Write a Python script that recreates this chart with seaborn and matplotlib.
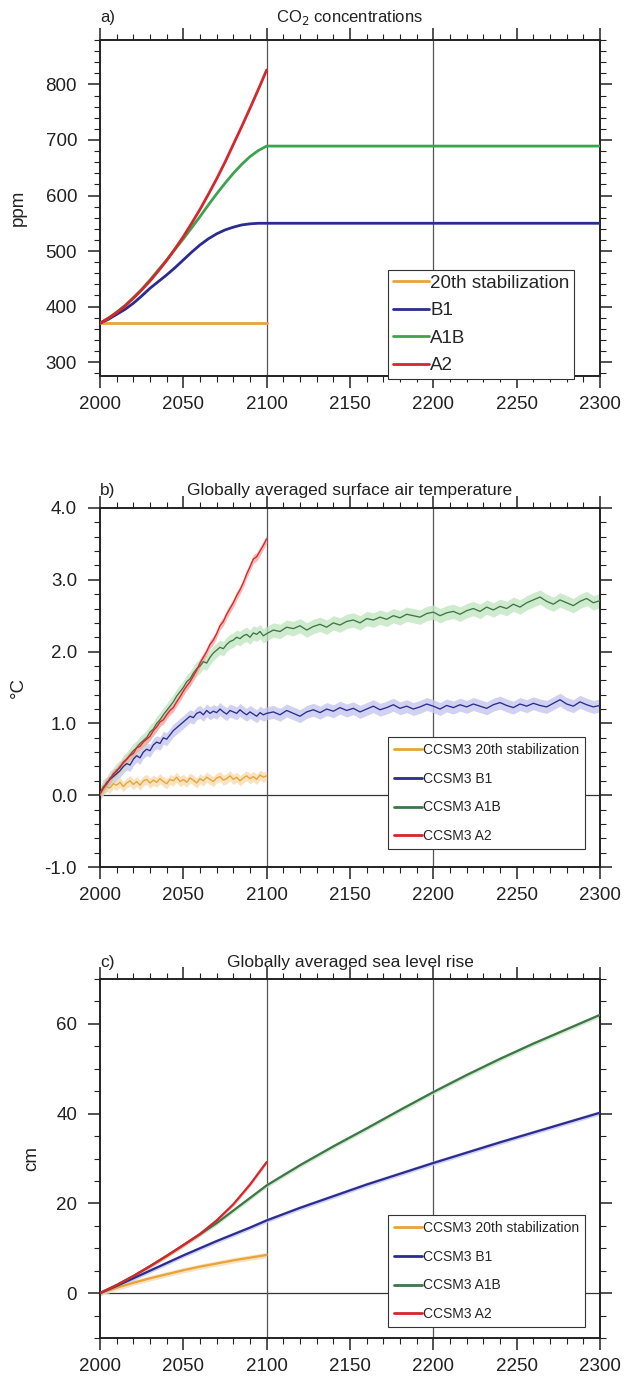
import numpy as np
import pandas as pd
import matplotlib
matplotlib.use("Agg")
import matplotlib.pyplot as plt
import seaborn as sns
from matplotlib.ticker import MultipleLocator, FormatStrFormatter

# ---------------- data ----------------
# Panel a: CO2 concentrations (ppm)
years_a = [2000, 2005, 2010, 2015, 2020, 2025, 2030, 2035, 2040, 2045, 2050,
           2055, 2060, 2065, 2070, 2075, 2080, 2085, 2090, 2095, 2100, 2300]
co2_stab = [370, 370, 370, 370, 370, 370, 370, 370, 370, 370, 370,
            370, 370, 370, 370, 370, 370, 370, 370, 370, 370, np.nan]
co2_b1 = [370, 377, 386, 395, 406, 419, 433, 445, 457, 470, 484,
          498, 511, 522, 531, 538, 543, 547, 549, 550, 550, 550]
co2_a1b = [370, 379, 390, 402, 416, 431, 448, 466, 484, 503, 522,
           542, 562, 583, 603, 622, 640, 656, 670, 681, 689, 689]
co2_a2 = [370, 379, 389, 401, 415, 430, 446, 464, 483, 504, 526,
          550, 575, 602, 630, 660, 692, 724, 757, 791, 826, np.nan]
labels_a = ["20th stabilization", "B1", "A1B", "A2"]

# Panel b: globally averaged surface air temperature (deg C)
years_b1 = list(range(2000, 2101, 2))
years_b2 = list(range(2100, 2301, 4))
tas_stab = [0.00, 0.08, 0.12, 0.10, 0.16, 0.14, 0.18, 0.12, 0.17, 0.20, 0.15, 0.19, 0.14,
            0.20, 0.22, 0.17, 0.21, 0.18, 0.23, 0.19, 0.16, 0.22, 0.20, 0.25, 0.19, 0.22,
            0.18, 0.24, 0.21, 0.17, 0.23, 0.20, 0.25, 0.22, 0.19, 0.24, 0.26, 0.21, 0.23,
            0.27, 0.22, 0.25, 0.20, 0.24, 0.27, 0.23, 0.26, 0.22, 0.28, 0.25, 0.27]
tas_b1_a = [0.02, 0.10, 0.16, 0.22, 0.26, 0.30, 0.34, 0.40, 0.44, 0.42, 0.50, 0.55, 0.52,
            0.60, 0.64, 0.62, 0.70, 0.74, 0.72, 0.80, 0.78, 0.84, 0.90, 0.94, 0.98, 1.02,
            1.06, 1.10, 1.08, 1.14, 1.16, 1.12, 1.18, 1.14, 1.17, 1.15, 1.20, 1.16, 1.13,
            1.18, 1.16, 1.14, 1.19, 1.15, 1.12, 1.16, 1.13, 1.10, 1.15, 1.12, 1.14]
tas_b1_b = [1.14, 1.16, 1.12, 1.18, 1.14, 1.10, 1.16, 1.19, 1.15, 1.20, 1.17, 1.22, 1.18,
            1.21, 1.16, 1.20, 1.24, 1.19, 1.22, 1.26, 1.21, 1.24, 1.20, 1.23, 1.27, 1.24,
            1.20, 1.25, 1.22, 1.26, 1.23, 1.27, 1.24, 1.21, 1.26, 1.29, 1.25, 1.22, 1.27,
            1.24, 1.28, 1.25, 1.23, 1.28, 1.33, 1.27, 1.24, 1.30, 1.26, 1.23, 1.25]
tas_a1b_a = [0.02, 0.12, 0.15, 0.24, 0.28, 0.35, 0.38, 0.46, 0.50, 0.56, 0.62, 0.66, 0.72,
             0.76, 0.80, 0.88, 0.92, 1.00, 1.05, 1.12, 1.18, 1.24, 1.30, 1.38, 1.44, 1.50,
             1.58, 1.62, 1.70, 1.76, 1.80, 1.86, 1.84, 1.92, 1.98, 2.02, 2.06, 2.04, 2.10,
             2.14, 2.16, 2.20, 2.18, 2.22, 2.24, 2.20, 2.26, 2.24, 2.28, 2.22, 2.25]
tas_a1b_b = [2.25, 2.30, 2.28, 2.34, 2.32, 2.36, 2.30, 2.35, 2.38, 2.34, 2.40, 2.37, 2.42,
             2.44, 2.40, 2.46, 2.44, 2.48, 2.45, 2.50, 2.47, 2.52, 2.50, 2.48, 2.53, 2.55,
             2.50, 2.54, 2.56, 2.52, 2.57, 2.60, 2.56, 2.62, 2.58, 2.63, 2.60, 2.66, 2.62,
             2.68, 2.72, 2.76, 2.70, 2.66, 2.72, 2.68, 2.64, 2.70, 2.74, 2.68, 2.71]
tas_a2 = [0.02, 0.10, 0.18, 0.22, 0.30, 0.33, 0.40, 0.45, 0.50, 0.55, 0.58, 0.66, 0.68,
          0.74, 0.78, 0.82, 0.90, 0.95, 1.02, 1.05, 1.12, 1.18, 1.22, 1.30, 1.37, 1.45,
          1.52, 1.58, 1.66, 1.74, 1.84, 1.92, 2.00, 2.10, 2.16, 2.25, 2.36, 2.42, 2.52,
          2.60, 2.68, 2.78, 2.86, 2.96, 3.08, 3.18, 3.29, 3.32, 3.40, 3.48, 3.57]
spread_b = {"stab": 0.07, "b1": 0.09, "a1b": 0.10, "a2": 0.06}
labels_bc = ["CCSM3 20th stabilization", "CCSM3 B1", "CCSM3 A1B", "CCSM3 A2"]

# Panel c: globally averaged sea level rise (cm)
years_c1 = [2000, 2010, 2020, 2030, 2040, 2050, 2060, 2070, 2080, 2090, 2100]
years_c2 = [2100, 2120, 2140, 2160, 2180, 2200, 2220, 2240, 2260, 2280, 2300]
sl_stab = [0.0, 1.2, 2.3, 3.3, 4.2, 5.1, 5.9, 6.6, 7.3, 7.9, 8.5]
sl_b1_a = [0.0, 1.6, 3.3, 5.0, 6.7, 8.4, 10.0, 11.6, 13.1, 14.6, 16.2]
sl_b1_b = [16.2, 19.0, 21.6, 24.2, 26.6, 29.0, 31.3, 33.6, 35.8, 38.0, 40.2]
sl_a1b_a = [0.0, 1.8, 3.8, 6.0, 8.3, 10.7, 13.1, 15.6, 18.4, 21.2, 24.0]
sl_a1b_b = [24.0, 28.5, 32.7, 36.7, 40.8, 44.8, 48.6, 52.2, 55.6, 58.8, 62.0]
sl_a2 = [0.0, 1.8, 3.8, 6.0, 8.3, 10.7, 13.2, 16.2, 19.8, 24.2, 29.2]
spread_c = {"stab": 0.6, "b1": 0.5, "a1b": 0.5, "a2": 0.4}

# ---------------- style ----------------
W, H = 628, 1378
sns.set_theme(style="ticks")
plt.rcParams['font.family'] = ['Liberation Sans', 'DejaVu Sans']
plt.rcParams['axes.linewidth'] = 1.4

c_orange = "#E8A339"
c_navy = "#2B2C8E"
c_green_a = "#3CA34E"
c_green = "#3F7548"
c_red = "#D5262B"
sh_orange = "#F6DDB0"
sh_navy = "#C6C6EE"
sh_green = "#C2E6C2"
sh_red = "#F4A7A5"
TXT = "#222222"

fig = plt.figure(figsize=(W / 100, H / 100), dpi=100)


def make_ax(top_px, bot_px):
    return fig.add_axes([100 / W, 1 - bot_px / H, 500 / W, (bot_px - top_px) / H])


def style_ax(ax, ymajor, yminor):
    ax.set_xlim(2000, 2300)
    ax.xaxis.set_major_locator(MultipleLocator(50))
    ax.xaxis.set_minor_locator(MultipleLocator(10))
    ax.yaxis.set_major_locator(MultipleLocator(ymajor))
    ax.yaxis.set_minor_locator(MultipleLocator(yminor))
    ax.tick_params(which='both', direction='out', top=True, right=True,
                   labeltop=False, labelright=False, colors=TXT,
                   labelsize=13.5, labelcolor=TXT)
    ax.tick_params(which='major', length=8.5, width=1.1)
    ax.tick_params(axis='y', which='major', pad=8)
    ax.tick_params(axis='x', which='major', pad=6)
    ax.tick_params(which='minor', length=4, width=0.8)
    for s in ax.spines.values():
        s.set_color(TXT)
        s.set_visible(True)
    ax.axvline(2100, color='#555555', lw=0.9, zorder=1)
    ax.axvline(2200, color='#555555', lw=0.9, zorder=1)
    ax.set_xlabel("")


def small_legend(ax, top_px):
    leg = ax.legend(loc='upper left', bbox_to_anchor=(388 / W, 1 - top_px / H),
                    bbox_transform=fig.transFigure, fontsize=10, frameon=True,
                    fancybox=False, edgecolor='#333333', framealpha=1,
                    handlelength=2.0, handletextpad=0.05, labelspacing=1.05,
                    borderpad=0.45, borderaxespad=0)
    leg.get_frame().set_linewidth(0.8)
    for lh in leg.get_lines():
        lh.set_linewidth(2.0)
    leg.set_zorder(10)
    return leg


# ---------------- panel a ----------------
ax_a = make_ax(40, 376)
df_a = pd.concat([
    pd.DataFrame({"year": years_a, "ppm": co2_stab, "run": labels_a[0]}),
    pd.DataFrame({"year": years_a, "ppm": co2_b1, "run": labels_a[1]}),
    pd.DataFrame({"year": years_a, "ppm": co2_a1b, "run": labels_a[2]}),
    pd.DataFrame({"year": years_a, "ppm": co2_a2, "run": labels_a[3]}),
]).dropna()
sns.lineplot(data=df_a, x="year", y="ppm", hue="run", hue_order=labels_a,
             palette=[c_orange, c_navy, c_green_a, c_red], lw=2.0,
             estimator=None, sort=False, ax=ax_a, zorder=3)
ax_a.set_ylim(275, 880)
style_ax(ax_a, 100, 20)
ax_a.set_ylabel("ppm", fontsize=13.5, color=TXT)
ax_a.yaxis.set_label_coords(-0.146, 0.5)
ax_a.set_title("a)", loc='left', fontsize=12, pad=13, color=TXT)
ax_a.set_title("CO$_2$ concentrations", loc='center', fontsize=12, pad=13, color=TXT)
leg = ax_a.legend(loc='upper left', bbox_to_anchor=(388 / W, 1 - 270 / H),
                  bbox_transform=fig.transFigure, fontsize=13.5, frameon=True,
                  fancybox=False, edgecolor='#333333', framealpha=1,
                  handlelength=1.95, handletextpad=0.05, labelspacing=0.55,
                  borderpad=0.25, borderaxespad=0)
leg.get_frame().set_linewidth(0.8)
leg.set_zorder(10)

# ---------------- panel b ----------------
ax_b = make_ax(508, 867)
bands = [
    (years_b1, tas_stab, spread_b["stab"], sh_orange),
    (years_b1, tas_b1_a, spread_b["b1"], sh_navy),
    (years_b2, tas_b1_b, spread_b["b1"], sh_navy),
    (years_b1, tas_a1b_a, spread_b["a1b"], sh_green),
    (years_b2, tas_a1b_b, spread_b["a1b"], sh_green),
    (years_b1, tas_a2, spread_b["a2"], sh_red),
]
for yrs, vals, sp, col in bands:
    v = np.array(vals)
    ax_b.fill_between(yrs, v - sp, v + sp, color=col, lw=0, alpha=0.8, zorder=2)
df_b = pd.concat([
    pd.DataFrame({"year": years_b1, "T": tas_stab, "run": labels_bc[0]}),
    pd.DataFrame({"year": years_b1 + years_b2[1:], "T": tas_b1_a + tas_b1_b[1:], "run": labels_bc[1]}),
    pd.DataFrame({"year": years_b1 + years_b2[1:], "T": tas_a1b_a + tas_a1b_b[1:], "run": labels_bc[2]}),
    pd.DataFrame({"year": years_b1, "T": tas_a2, "run": labels_bc[3]}),
])
sns.lineplot(data=df_b, x="year", y="T", hue="run", hue_order=labels_bc,
             palette=[c_orange, c_navy, c_green, c_red], lw=0.95,
             estimator=None, sort=False, ax=ax_b, zorder=3)
ax_b.axhline(0, color='#333333', lw=0.9, zorder=1)
ax_b.set_ylim(-1, 4)
style_ax(ax_b, 1.0, 0.2)
ax_b.yaxis.set_major_formatter(FormatStrFormatter('%.1f'))
ax_b.set_ylabel("°C", fontsize=13.5, color=TXT)
ax_b.yaxis.set_label_coords(-0.146, 0.5)
ax_b.set_title("b)", loc='left', fontsize=12.5, pad=9, color=TXT)
ax_b.set_title("Globally averaged surface air temperature", loc='center', fontsize=12.5,
               pad=9, color=TXT)
small_legend(ax_b, 737)

# ---------------- panel c ----------------
ax_c = make_ax(979, 1338)
cbands = [
    (years_c1, sl_stab, spread_c["stab"], sh_orange),
    (years_c1, sl_b1_a, spread_c["b1"], sh_navy),
    (years_c2, sl_b1_b, spread_c["b1"], sh_navy),
    (years_c1, sl_a1b_a, spread_c["a1b"], sh_green),
    (years_c2, sl_a1b_b, spread_c["a1b"], sh_green),
    (years_c1, sl_a2, spread_c["a2"], sh_red),
]
for yrs, vals, sp, col in cbands:
    v = np.array(vals)
    ax_c.fill_between(yrs, v - sp, v + sp, color=col, lw=0, alpha=0.8, zorder=2)
df_c = pd.concat([
    pd.DataFrame({"year": years_c1, "cm": sl_stab, "run": labels_bc[0]}),
    pd.DataFrame({"year": years_c1 + years_c2[1:], "cm": sl_b1_a + sl_b1_b[1:], "run": labels_bc[1]}),
    pd.DataFrame({"year": years_c1 + years_c2[1:], "cm": sl_a1b_a + sl_a1b_b[1:], "run": labels_bc[2]}),
    pd.DataFrame({"year": years_c1, "cm": sl_a2, "run": labels_bc[3]}),
])
sns.lineplot(data=df_c, x="year", y="cm", hue="run", hue_order=labels_bc,
             palette=[c_orange, c_navy, c_green, c_red], lw=1.6,
             estimator=None, sort=False, ax=ax_c, zorder=3)
ax_c.axhline(0, color='#333333', lw=0.9, zorder=1)
ax_c.set_ylim(-10, 70)
style_ax(ax_c, 20, 5)
ax_c.set_ylabel("cm", fontsize=13.5, color=TXT)
ax_c.yaxis.set_label_coords(-0.12, 0.5)
ax_c.set_title("c)", loc='left', fontsize=12.5, pad=9, color=TXT)
ax_c.set_title("Globally averaged sea level rise", loc='center', fontsize=12.5,
               pad=9, color=TXT)
small_legend(ax_c, 1215)

fig.savefig("out.png", dpi=100, facecolor='white')
